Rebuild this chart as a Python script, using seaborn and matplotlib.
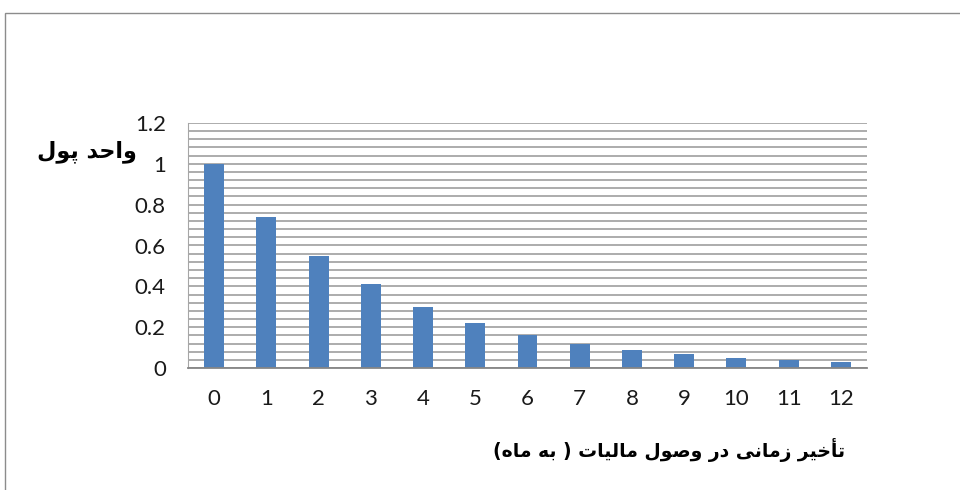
import matplotlib
matplotlib.use("Agg")
import matplotlib.pyplot as plt
import seaborn as sns
import pandas as pd
from matplotlib.patches import Rectangle

months = ["0", "1", "2", "3", "4", "5", "6", "7", "8", "9", "10", "11", "12"]
values = [1.0, 0.74, 0.55, 0.41, 0.30, 0.22, 0.16, 0.12, 0.09, 0.07, 0.05, 0.04, 0.03]
y_ticks = [0, 0.2, 0.4, 0.6, 0.8, 1.0, 1.2]
y_tick_labels = ["0", "0.2", "0.4", "0.6", "0.8", "1", "1.2"]
y_label = "واحد پول"
x_label = "تأخیر زمانی در وصول مالیات ( به ماه)"

# --- minimal Arabic/Persian shaping into presentation forms (visual order) ---
FORMS = {  # isolated, final, initial, medial
    "\u0627": ("\uFE8D", "\uFE8E", None, None),
    "\u0623": ("\uFE83", "\uFE84", None, None),
    "\u0628": ("\uFE8F", "\uFE90", "\uFE91", "\uFE92"),
    "\u062A": ("\uFE95", "\uFE96", "\uFE97", "\uFE98"),
    "\u062D": ("\uFEA1", "\uFEA2", "\uFEA3", "\uFEA4"),
    "\u062E": ("\uFEA5", "\uFEA6", "\uFEA7", "\uFEA8"),
    "\u062F": ("\uFEA9", "\uFEAA", None, None),
    "\u0631": ("\uFEAD", "\uFEAE", None, None),
    "\u0632": ("\uFEAF", "\uFEB0", None, None),
    "\u0635": ("\uFEB9", "\uFEBA", "\uFEBB", "\uFEBC"),
    "\u0644": ("\uFEDD", "\uFEDE", "\uFEDF", "\uFEE0"),
    "\u0645": ("\uFEE1", "\uFEE2", "\uFEE3", "\uFEE4"),
    "\u0646": ("\uFEE5", "\uFEE6", "\uFEE7", "\uFEE8"),
    "\u0647": ("\uFEE9", "\uFEEA", "\uFEEB", "\uFEEC"),
    "\u0648": ("\uFEED", "\uFEEE", None, None),
    "\u06CC": ("\uFBFC", "\uFBFD", "\uFBFE", "\uFBFF"),
    "\u067E": ("\uFB56", "\uFB57", "\uFB58", "\uFB59"),
}
MIRROR = {"(": ")", ")": "("}


def joins_left(c):
    return c in FORMS and FORMS[c][2] is not None


def shape(text):
    out = []
    n = len(text)
    for i, c in enumerate(text):
        if c not in FORMS:
            out.append(MIRROR.get(c, c))
            continue
        prev_j = i > 0 and joins_left(text[i - 1])
        next_j = i < n - 1 and text[i + 1] in FORMS and joins_left(c)
        iso, fin, ini, med = FORMS[c]
        if prev_j and next_j:
            out.append(med)
        elif prev_j:
            out.append(fin)
        elif next_j:
            out.append(ini)
        else:
            out.append(iso)
    return "".join(reversed(out))


df = pd.DataFrame({"month": months, "value": values})

fig = plt.figure(figsize=(9.6, 4.9), dpi=100)
fig.patch.set_facecolor("white")
fig.add_artist(Rectangle((5 / 960, -0.1), 1.2, (490 - 13) / 490 + 0.1,
                         transform=fig.transFigure, fill=False,
                         edgecolor="#8c8c8c", linewidth=1.0))

ax = fig.add_axes([188 / 960, (490 - 368) / 490, (867 - 188) / 960, (368 - 123) / 490])
sns.barplot(data=df, x="month", y="value", color="#4F81BD", saturation=1,
            width=0.38, ax=ax, zorder=3)

ax.set_xlim(-0.5, 12.5)
ax.set_ylim(0, 1.2)
ax.set_yticks(y_ticks)
ax.set_yticklabels(y_tick_labels)
for k in range(31):
    ax.axhline(k * 0.04, color="#A6A6A6", linewidth=1.3, zorder=1)

ax.set_xlabel("")
ax.set_ylabel("")
for s in ["top", "right"]:
    ax.spines[s].set_visible(False)
ax.spines["left"].set_color("#A6A6A6")
ax.spines["bottom"].set_color("#868686")
ax.spines["bottom"].set_linewidth(1.3)
ax.spines["bottom"].set_zorder(4)
ax.tick_params(axis="both", length=0, labelsize=16, labelcolor="#1a1a1a")
ax.tick_params(axis="x", pad=15)
ax.tick_params(axis="y", pad=16)
for lab in ax.get_xticklabels() + ax.get_yticklabels():
    lab.set_fontfamily(["Lato", "DejaVu Sans"])

fig.text(87 / 960, 1 - 152 / 490, shape(y_label), ha="center", va="center",
         fontsize=16, fontweight="bold", family=["DejaVu Sans"])
fig.text(669 / 960, 1 - 450 / 490, shape(x_label), ha="center", va="center",
         fontsize=13.5, fontweight="bold", family=["DejaVu Sans"])

fig.savefig("out.png", dpi=100)
